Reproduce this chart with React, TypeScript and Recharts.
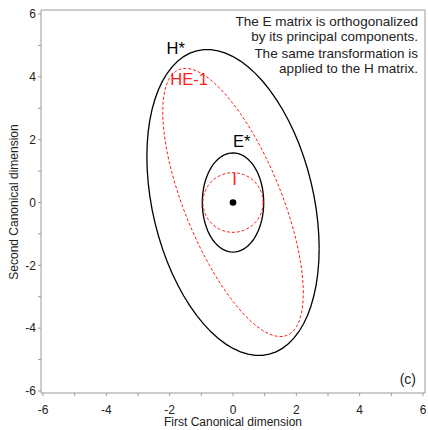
import { ScatterChart, Scatter, XAxis, YAxis, ReferenceLine, ReferenceDot, Label } from "recharts";

// ellipses of the canonical plot: half-extent along x, along y, and x/y correlation
const ellipseNames = ["H*", "HE-1", "E*", "I"];
const xSpread = [2.72, 2.22, 0.97, 0.95];
const ySpread = [4.87, 4.27, 1.58, 0.95];
const xyCorr = [-0.3, -0.675, 0, 0];

const axisTicks = [-6, -5, -4, -3, -2, -1, 0, 1, 2, 3, 4, 5, 6];

const noteLines = [
  "The E matrix is orthogonalized",
  "by its principal components.",
  "The same transformation is",
  "applied to the H matrix.",
];
// baseline of each note line, in data units
const noteY = [5.62, 5.13, 4.6, 4.11];

const FONT = "'Liberation Sans', Arial, sans-serif";
const RED = "#ff1a1a";
const AXIS = "#9a9a9a";

const STYLES: Record<string, { stroke: string; width: number; dash?: string }> = {
  "H*": { stroke: "#000", width: 1.3 },
  "HE-1": { stroke: RED, width: 1, dash: "3 2" },
  "E*": { stroke: "#000", width: 1.3 },
  I: { stroke: RED, width: 1, dash: "3 2" },
};

// label anchors (data coords)
const LABELS = [
  { text: "H*", x: -2.1, y: 4.73, fill: "#000" },
  { text: "HE-1", x: -1.98, y: 3.74, fill: RED },
  { text: "E*", x: 0.0, y: 1.77, fill: "#000" },
  { text: "I", x: 0.05, y: 0.56, fill: RED },
];

function ellipse(i: number) {
  const n = 72;
  const r = xyCorr[i];
  const s = Math.sqrt(1 - r * r);
  const pts = [];
  for (let k = 0; k <= n; k++) {
    const t = (2 * Math.PI * k) / n;
    pts.push({ x: xSpread[i] * Math.cos(t), y: ySpread[i] * (r * Math.cos(t) + s * Math.sin(t)) });
  }
  return pts;
}

const X_DOMAIN = [-6.063, 6.063];
const Y_DOMAIN = [-6.064, 6.127];

export default function App() {
  const even = (v: number) => (v % 2 === 0 ? String(v) : "");

  return (
    <div style={{ position: "absolute", left: 0, top: 0, background: "#fff" }}>
      <ScatterChart width={428} height={430} margin={{ top: 10, right: 3, bottom: 0, left: 0 }}>
        <XAxis
          type="number"
          dataKey="x"
          domain={X_DOMAIN}
          allowDataOverflow
          ticks={axisTicks}
          interval={0}
          tickFormatter={even}
          height={37}
          stroke={AXIS}
          tickSize={3}
          tickMargin={9}
          tick={{ fill: "#222", fontSize: 12, fontFamily: FONT }}
        >
          <Label
            value="First Canonical dimension"
            position="insideBottom"
            offset={4}
            style={{ fill: "#222", fontSize: 12, fontFamily: FONT }}
          />
        </XAxis>
        <YAxis
          type="number"
          dataKey="y"
          domain={Y_DOMAIN}
          allowDataOverflow
          ticks={axisTicks}
          interval={0}
          tickFormatter={even}
          width={41}
          stroke={AXIS}
          tickSize={3}
          tickMargin={2}
          tick={{ fill: "#222", fontSize: 12, fontFamily: FONT }}
        >
          <Label
            content={() => (
              <text
                x={17.5}
                y={202}
                transform="rotate(-90 17.5 202)"
                textAnchor="middle"
                fill="#222"
                fontSize={12}
                fontFamily={FONT}
              >
                Second Canonical dimension
              </text>
            )}
          />
        </YAxis>

        <ReferenceLine y={Y_DOMAIN[1]} stroke={AXIS} />
        <ReferenceLine x={X_DOMAIN[1]} stroke={AXIS} />

        {ellipseNames.map((name, i) => (
          <Scatter
            key={name}
            name={name}
            data={ellipse(i)}
            isAnimationActive={false}
            shape={() => <g />}
            line={{
              stroke: STYLES[name].stroke,
              strokeWidth: STYLES[name].width,
              strokeDasharray: STYLES[name].dash,
              fill: "none",
            }}
          />
        ))}

        <ReferenceDot x={0} y={0} r={3.3} fill="#000" stroke="none" />

        {LABELS.map((l) => (
          <ReferenceDot
            key={l.text}
            x={l.x}
            y={l.y}
            shape={(p: any) => (
              <text x={p.cx} y={p.cy} fill={l.fill} fontSize={16.5} fontFamily={FONT} textAnchor={l.text === "I" ? "middle" : "start"}>
                {l.text}
              </text>
            )}
          />
        ))}

        {noteLines.map((line, i) => (
          <ReferenceDot
            key={line}
            x={5.84}
            y={noteY[i]}
            shape={(p: any) => (
              <text x={p.cx} y={p.cy} fill="#222" fontSize={13.5} fontFamily={FONT} textAnchor="end">
                {line}
              </text>
            )}
          />
        ))}

        <ReferenceDot
          x={5.78}
          y={-5.78}
          shape={(p: any) => (
            <text x={p.cx} y={p.cy} fill="#222" fontSize={14} fontFamily={FONT} textAnchor="end">
              (c)
            </text>
          )}
        />
      </ScatterChart>
    </div>
  );
}
